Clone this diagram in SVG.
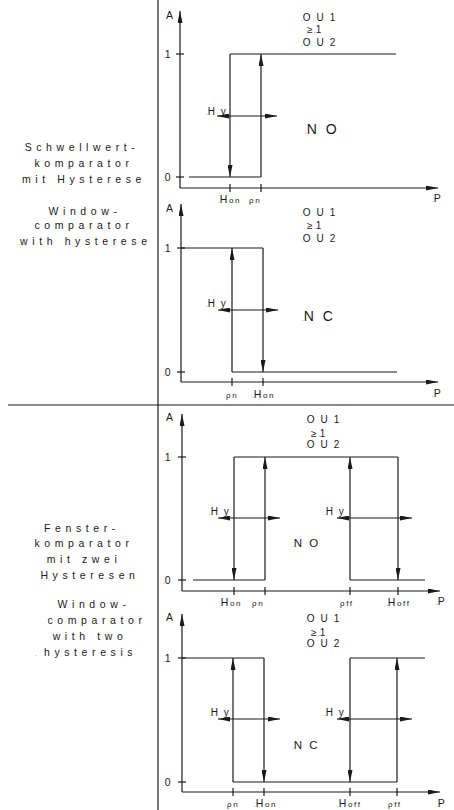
<svg xmlns="http://www.w3.org/2000/svg" width="454" height="810" viewBox="0 0 454 810">
<style>
text{font-family:"Liberation Sans",Arial,sans-serif;fill:#1a1a1a}
.ln{stroke:#1a1a1a;stroke-width:1.2;fill:none}
.ax{stroke:#1a1a1a;stroke-width:1.2;fill:none;marker-end:url(#axa)}
.ar{stroke:#1a1a1a;stroke-width:1.2;fill:none;marker-end:url(#ah)}
.hy{stroke:#1a1a1a;stroke-width:1.2;fill:none;marker-start:url(#ah);marker-end:url(#ah)}
.lt{font-size:10.5px;letter-spacing:4.6px;text-anchor:middle}
.ou{font-size:10px;letter-spacing:1.6px}
.sm{font-size:10.5px}
.tk{font-size:8px;letter-spacing:1.6px}
.big{font-size:14px;letter-spacing:2.5px}
.mid{font-size:11.5px;letter-spacing:2px}
.d{font-size:6px;letter-spacing:0}
</style>
<defs>
<marker id="ah" viewBox="0 0 12 5" refX="12" refY="2.5" markerWidth="12" markerHeight="5" markerUnits="userSpaceOnUse" orient="auto-start-reverse"><path d="M0,0 L12,2.5 L0,5 z" fill="#1a1a1a"/></marker>
<marker id="axa" viewBox="0 0 12 5" refX="12" refY="2.5" markerWidth="12" markerHeight="5" markerUnits="userSpaceOnUse" orient="auto"><path d="M0,0 L12,2.5 L0,5 z" fill="#1a1a1a"/></marker>
</defs>

<g id="frame">
<line class="ln" x1="158" y1="0" x2="158" y2="810"/>
<line class="ln" x1="8" y1="405" x2="454" y2="405"/>
</g>

<g id="label-1">
<text class="lt" x="82" y="151">Schwellwert-</text>
<text class="lt" x="84" y="167">komparator</text>
<text class="lt" x="84" y="183">mit Hysterese</text>
<text class="lt" x="85" y="215">Window-</text>
<text class="lt" x="84" y="229">comparator</text>
<text class="lt" x="85" y="245"><tspan class="d">.</tspan>with hysterese</text>
</g>

<g id="label-2">
<text class="lt" x="82" y="532">Fenster-</text>
<text class="lt" x="84" y="547">komparator</text>
<text class="lt" x="84" y="563">mit zwei</text>
<text class="lt" x="90" y="579">Hysteresen</text>
<text class="lt" x="94" y="608">Window-</text>
<text class="lt" x="97" y="624">comparator</text>
<text class="lt" x="90" y="640">with two</text>
<text class="lt" x="86" y="656"><tspan class="d">.</tspan> hysteresis</text>
</g>

<g id="graph-1">
<line class="ax" x1="180" y1="188" x2="180" y2="11"/>
<line class="ax" x1="180" y1="188" x2="438" y2="188"/>
<line class="ln" x1="176" y1="54" x2="184" y2="54"/>
<line class="ln" x1="176" y1="177" x2="184" y2="177"/>
<line class="ln" x1="230" y1="184" x2="230" y2="192"/>
<line class="ln" x1="261" y1="184" x2="261" y2="192"/>
<polyline class="ln" points="189,177 261,177"/>
<line class="ln" x1="230" y1="54" x2="396" y2="54"/>
<line class="ar" x1="261" y1="177" x2="261" y2="54"/>
<line class="ar" x1="230" y1="54" x2="230" y2="177"/>
<line class="hy" x1="217" y1="116" x2="277" y2="116"/>
<text class="sm" x="166" y="19" font-size="11">A</text>
<text class="ou" x="301" y="21"><tspan class="d">.</tspan>O U 1</text>
<text class="ou" x="307" y="33">≥<tspan class="d">.</tspan>1</text>
<text class="ou" x="301" y="46"><tspan class="d">.</tspan>O U 2</text>
<text class="sm" x="163" y="58"><tspan class="d">.</tspan>1</text>
<text class="sm" x="163" y="181"><tspan class="d">.</tspan>0</text>
<text class="ou" x="206" y="115"><tspan class="d">.</tspan>H y</text>
<text class="big" x="305" y="134"><tspan class="d">.</tspan>N O</text>
<text class="sm" x="218" y="203"><tspan class="d">.</tspan>H</text>
<text class="tk" x="229" y="203">on</text>
<text class="tk" x="249" y="203">ρn</text>
<text class="sm" x="432" y="202" font-size="11"><tspan class="d">.</tspan>P</text>
</g>

<g id="graph-2">
<line class="ax" x1="181" y1="382" x2="181" y2="204"/>
<line class="ax" x1="181" y1="382" x2="438" y2="382"/>
<line class="ln" x1="177" y1="248" x2="185" y2="248"/>
<line class="ln" x1="177" y1="372" x2="185" y2="372"/>
<line class="ln" x1="232" y1="378" x2="232" y2="386"/>
<line class="ln" x1="263" y1="378" x2="263" y2="386"/>
<line class="ln" x1="181" y1="248" x2="263" y2="248"/>
<line class="ln" x1="232" y1="372" x2="397" y2="372"/>
<line class="ar" x1="263" y1="248" x2="263" y2="372"/>
<line class="ar" x1="232" y1="372" x2="232" y2="248"/>
<line class="hy" x1="218" y1="310" x2="278" y2="310"/>
<text class="sm" x="166" y="212" font-size="11">A</text>
<text class="ou" x="301" y="216"><tspan class="d">.</tspan>O U 1</text>
<text class="ou" x="307" y="229">≥<tspan class="d">.</tspan>1</text>
<text class="ou" x="301" y="242"><tspan class="d">.</tspan>O U 2</text>
<text class="sm" x="163" y="252"><tspan class="d">.</tspan>1</text>
<text class="sm" x="163" y="376"><tspan class="d">.</tspan>0</text>
<text class="ou" x="206" y="307"><tspan class="d">.</tspan>H y</text>
<text class="big" x="302" y="321"><tspan class="d">.</tspan>N C</text>
<text class="tk" x="226" y="398">ρn</text>
<text class="sm" x="252" y="398"><tspan class="d">.</tspan>H</text>
<text class="tk" x="263" y="398">on</text>
<text class="sm" x="432" y="397" font-size="11"><tspan class="d">.</tspan>P</text>
</g>

<g id="graph-3">
<line class="ax" x1="182" y1="591" x2="182" y2="414"/>
<line class="ax" x1="182" y1="591" x2="440" y2="591"/>
<line class="ln" x1="178" y1="457" x2="186" y2="457"/>
<line class="ln" x1="178" y1="580" x2="186" y2="580"/>
<line class="ln" x1="234" y1="587" x2="234" y2="595"/>
<line class="ln" x1="265" y1="587" x2="265" y2="595"/>
<line class="ln" x1="350" y1="587" x2="350" y2="595"/>
<line class="ln" x1="398" y1="587" x2="398" y2="595"/>
<line class="ln" x1="193" y1="580" x2="265" y2="580"/>
<line class="ln" x1="234" y1="457" x2="398" y2="457"/>
<line class="ln" x1="350" y1="580" x2="425" y2="580"/>
<line class="ar" x1="265" y1="580" x2="265" y2="457"/>
<line class="ar" x1="234" y1="457" x2="234" y2="580"/>
<line class="ar" x1="350" y1="580" x2="350" y2="457"/>
<line class="ar" x1="398" y1="457" x2="398" y2="580"/>
<line class="hy" x1="218" y1="518" x2="280" y2="518"/>
<line class="hy" x1="337" y1="518" x2="412" y2="518"/>
<text class="sm" x="166" y="421" font-size="11">A</text>
<text class="ou" x="305" y="423"><tspan class="d">.</tspan>O U 1</text>
<text class="ou" x="311" y="437" font-size="13">≥<tspan class="d">.</tspan>1</text>
<text class="ou" x="305" y="448"><tspan class="d">.</tspan>O U 2</text>
<text class="sm" x="163" y="461"><tspan class="d">.</tspan>1</text>
<text class="sm" x="163" y="584"><tspan class="d">.</tspan>0</text>
<text class="ou" x="209" y="515"><tspan class="d">.</tspan>H y</text>
<text class="ou" x="324" y="515"><tspan class="d">.</tspan>H y</text>
<text class="mid" x="292" y="547"><tspan class="d">.</tspan>N O</text>
<text class="sm" x="219" y="606"><tspan class="d">.</tspan>H</text>
<text class="tk" x="230" y="606">on</text>
<text class="tk" x="252" y="606">ρn</text>
<text class="tk" x="340" y="606">ρff</text>
<text class="sm" x="386" y="606"><tspan class="d">.</tspan>H</text>
<text class="tk" x="397" y="606">off</text>
<text class="sm" x="436" y="605" font-size="11"><tspan class="d">.</tspan>P</text>
</g>

<g id="graph-4">
<line class="ax" x1="182" y1="792" x2="182" y2="614"/>
<line class="ax" x1="182" y1="792" x2="440" y2="792"/>
<line class="ln" x1="178" y1="658" x2="186" y2="658"/>
<line class="ln" x1="178" y1="782" x2="186" y2="782"/>
<line class="ln" x1="233" y1="788" x2="233" y2="796"/>
<line class="ln" x1="264" y1="788" x2="264" y2="796"/>
<line class="ln" x1="350" y1="788" x2="350" y2="796"/>
<line class="ln" x1="397" y1="788" x2="397" y2="796"/>
<line class="ln" x1="182" y1="658" x2="264" y2="658"/>
<line class="ln" x1="233" y1="782" x2="397" y2="782"/>
<line class="ln" x1="350" y1="658" x2="425" y2="658"/>
<line class="ar" x1="264" y1="658" x2="264" y2="782"/>
<line class="ar" x1="233" y1="782" x2="233" y2="658"/>
<line class="ar" x1="350" y1="658" x2="350" y2="782"/>
<line class="ar" x1="397" y1="782" x2="397" y2="658"/>
<line class="hy" x1="218" y1="719" x2="280" y2="719"/>
<line class="hy" x1="337" y1="719" x2="412" y2="719"/>
<text class="sm" x="166" y="621" font-size="11">A</text>
<text class="ou" x="305" y="622"><tspan class="d">.</tspan>O U 1</text>
<text class="ou" x="311" y="636" font-size="13">≥<tspan class="d">.</tspan>1</text>
<text class="ou" x="305" y="647"><tspan class="d">.</tspan>O U 2</text>
<text class="sm" x="163" y="662"><tspan class="d">.</tspan>1</text>
<text class="sm" x="163" y="786"><tspan class="d">.</tspan>0</text>
<text class="ou" x="209" y="716"><tspan class="d">.</tspan>H y</text>
<text class="ou" x="324" y="716"><tspan class="d">.</tspan>H y</text>
<text class="mid" x="292" y="749"><tspan class="d">.</tspan>N C</text>
<text class="tk" x="227" y="807">ρn</text>
<text class="sm" x="254" y="807"><tspan class="d">.</tspan>H</text>
<text class="tk" x="265" y="807">on</text>
<text class="sm" x="337" y="807"><tspan class="d">.</tspan>H</text>
<text class="tk" x="348" y="807">off</text>
<text class="tk" x="388" y="807">ρff</text>
<text class="sm" x="436" y="807" font-size="11"><tspan class="d">.</tspan>P</text>
</g>
</svg>
